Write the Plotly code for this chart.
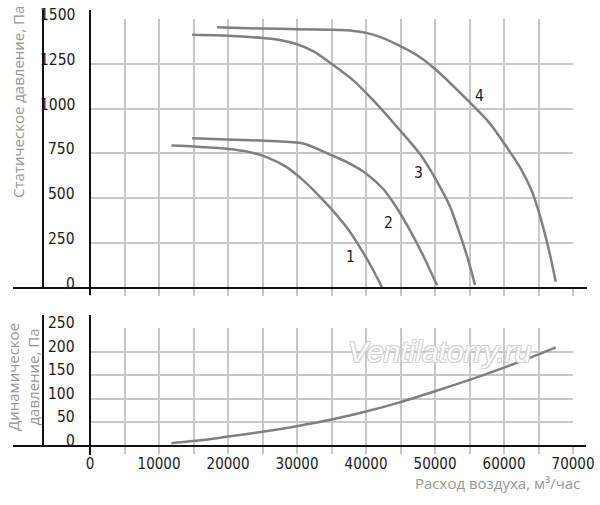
import plotly.graph_objects as go

# ---- data ----
flow1 = [11800, 15000, 19800, 23200, 25600, 28500, 30900, 33300, 34800, 37200, 39100, 40800, 42300]
static1 = [794, 789, 776, 757, 730, 674, 600, 510, 448, 338, 228, 117, 5]

flow2 = [14800, 19800, 24600, 30000, 31400, 34800, 37600, 40100, 42500, 44400, 46400, 48300, 50300]
static2 = [835, 828, 822, 811, 800, 744, 695, 636, 552, 450, 320, 180, 15]

flow3 = [14800, 20000, 25000, 27500, 30000, 32400, 35000, 38200, 41100, 44000, 47800, 50200, 52200,
         53900, 55100, 55800]
static3 = [1411, 1406, 1393, 1382, 1359, 1319, 1250, 1156, 1044, 920, 748, 600, 452, 267, 118, 17]

flow4 = [18400, 25100, 30000, 35000, 38200, 40000, 42000, 44900, 47300, 49800, 54800, 58000, 60400,
         62300, 64000, 65000, 65800, 66700, 67500]
static4 = [1453, 1446, 1443, 1439, 1433, 1422, 1400, 1350, 1300, 1228, 1044, 915, 785, 674, 544, 430,
           320, 180, 35]

flow_dyn = [11800, 16000, 20000, 25000, 30000, 35000, 40000, 45000, 50000, 55000, 60000, 65000, 67500]
dynamic = [6, 12, 20, 30, 42, 56, 73, 93, 116, 140, 166, 194, 209]

curve_labels = ["1", "2", "3", "4"]
label_x = [37800, 43300, 47600, 56500]
label_y = [170, 363, 643, 1072]

static_ticks = [0, 250, 500, 750, 1000, 1250, 1500]
dyn_ticks = [0, 50, 100, 150, 200, 250]
flow_ticks = [0, 10000, 20000, 30000, 40000, 50000, 60000, 70000]
flow_tick_labels = ["0", "10000", "20000", "30000", "40000", "50000", "60000", "70000"]

# ---- style ----
LINE = "#808080"
GRID = "#c8c8c8"
TITLE = "#969696"
NUM_FAMILY = "Liberation Sans Narrow, DejaVu Sans Condensed, sans-serif"
NUM_FONT = dict(family=NUM_FAMILY, size=15.5, color="#1a1a1a")
XNUM_FONT = dict(family=NUM_FAMILY, size=15, color="#1a1a1a")
TITLE_FONT = "Open Sans, Noto Sans, sans-serif"

fig = go.Figure()
for fx, fy in [(flow1, static1), (flow2, static2), (flow3, static3), (flow4, static4)]:
    fig.add_trace(go.Scatter(x=fx, y=fy, mode="lines",
                             line=dict(color=LINE, width=2.5, shape="spline", smoothing=0.7),
                             xaxis="x", yaxis="y", showlegend=False, hoverinfo="skip"))
fig.add_trace(go.Scatter(x=flow_dyn, y=dynamic, mode="lines",
                         line=dict(color=LINE, width=2.5, shape="spline", smoothing=0.7),
                         xaxis="x2", yaxis="y2", showlegend=False, hoverinfo="skip"))


def p(px):
    return (505 - px) / 505


XDOM = [90 / 600, 573 / 600]

annotations = []
for t, lx, ly in zip(curve_labels, label_x, label_y):
    annotations.append(dict(x=lx, y=ly, xref="x", yref="y", text=t, showarrow=False,
                            font=NUM_FONT))
# y tick labels (sit a little above their grid lines, as in the reference)
for v in static_ticks:
    annotations.append(dict(x=77 / 600, y=v, xref="paper", yref="y", text=str(v), showarrow=False,
                            xanchor="right", yanchor="middle", yshift=4, font=NUM_FONT))
for v in dyn_ticks:
    annotations.append(dict(x=77 / 600, y=v, xref="paper", yref="y2", text=str(v), showarrow=False,
                            xanchor="right", yanchor="middle", yshift=5, font=NUM_FONT))
annotations += [
    dict(x=18 / 600, y=p(102), xref="paper", yref="paper", text="Статическое давление, Па",
         xanchor="center", yanchor="middle",
         textangle=-90, showarrow=False, font=dict(family=TITLE_FONT, size=15, color=TITLE)),
    dict(x=23 / 600, y=p(377), xref="paper", yref="paper", text="Динамическое<br>давление, Па",
         xanchor="center", yanchor="middle",
         textangle=-90, showarrow=False, font=dict(family=TITLE_FONT, size=15, color=TITLE)),
    dict(x=582 / 600, y=p(483), xref="paper", yref="paper", text="Расход воздуха, м³/час",
         xanchor="right", yanchor="middle", showarrow=False,
         font=dict(family=TITLE_FONT, size=15, color=TITLE)),
    dict(x=440 / 600, y=p(351), xref="paper", yref="paper", text="Ventilatorry.ru",
         xanchor="center", yanchor="middle", showarrow=False,
         font=dict(family="Liberation Sans, Arial, sans-serif", size=30, color="rgba(255,255,255,0.95)",
                   style="italic",
                   shadow="1px 1px 0 #d0d0d0, -1px -1px 0 #d0d0d0, 1px -1px 0 #d0d0d0, -1px 1px 0 #d0d0d0")),
]

BLK = dict(color="#111111", width=2)
shapes = [
    dict(type="line", xref="paper", yref="paper", x0=43 / 600, x1=43 / 600, y0=p(288), y1=p(10), line=BLK),
    dict(type="line", xref="paper", yref="paper", x0=90 / 600, x1=90 / 600, y0=p(295), y1=p(10), line=BLK),
    dict(type="line", xref="paper", yref="paper", x0=13 / 600, x1=587 / 600, y0=p(288), y1=p(288), line=BLK),
    dict(type="line", xref="paper", yref="paper", x0=43 / 600, x1=43 / 600, y0=p(446), y1=p(315), line=BLK),
    dict(type="line", xref="paper", yref="paper", x0=90 / 600, x1=90 / 600, y0=p(455), y1=p(315), line=BLK),
    dict(type="line", xref="paper", yref="paper", x0=13 / 600, x1=586 / 600, y0=p(446), y1=p(446), line=BLK),
]

fig.update_layout(
    width=600, height=505,
    margin=dict(l=0, r=0, t=0, b=0, autoexpand=False),
    paper_bgcolor="white", plot_bgcolor="white",
    xaxis=dict(domain=XDOM, anchor="y", range=[0, 70000], dtick=5000, tick0=0, automargin=False,
               showgrid=True, gridcolor=GRID, gridwidth=1.5, zeroline=False, showline=False,
               ticks="outside", ticklen=7, tickcolor=GRID, tickwidth=1.5, showticklabels=False),
    yaxis=dict(domain=[p(288), p(18.9)], anchor="x", range=[0, 1500], tickvals=static_ticks,
               automargin=False, showticklabels=False,
               showgrid=True, gridcolor=GRID, gridwidth=1.5, zeroline=False, showline=False, ticks=""),
    xaxis2=dict(domain=XDOM, anchor="y2", range=[0, 70000], tickvals=flow_ticks,
                ticktext=flow_tick_labels, automargin=False, ticklabelstandoff=-3,
                showgrid=True, gridcolor=GRID, gridwidth=1.5, zeroline=False, showline=False,
                ticks="outside", ticklen=7, tickcolor=GRID, tickwidth=1.5, tickfont=XNUM_FONT,
                minor=dict(dtick=5000, tick0=0, ticks="outside", ticklen=7, tickcolor=GRID,
                           tickwidth=1.5, showgrid=True, gridcolor=GRID, gridwidth=1.5)),
    yaxis2=dict(domain=[p(446), p(328)], anchor="x2", range=[0, 250], tickvals=dyn_ticks,
                automargin=False, showticklabels=False,
                showgrid=True, gridcolor=GRID, gridwidth=1.5, zeroline=False, showline=False, ticks=""),
    annotations=annotations,
    shapes=shapes,
)

fig.write_html("out.html", config={"displayModeBar": False},
               post_script="document.body.style.margin='0px';")
